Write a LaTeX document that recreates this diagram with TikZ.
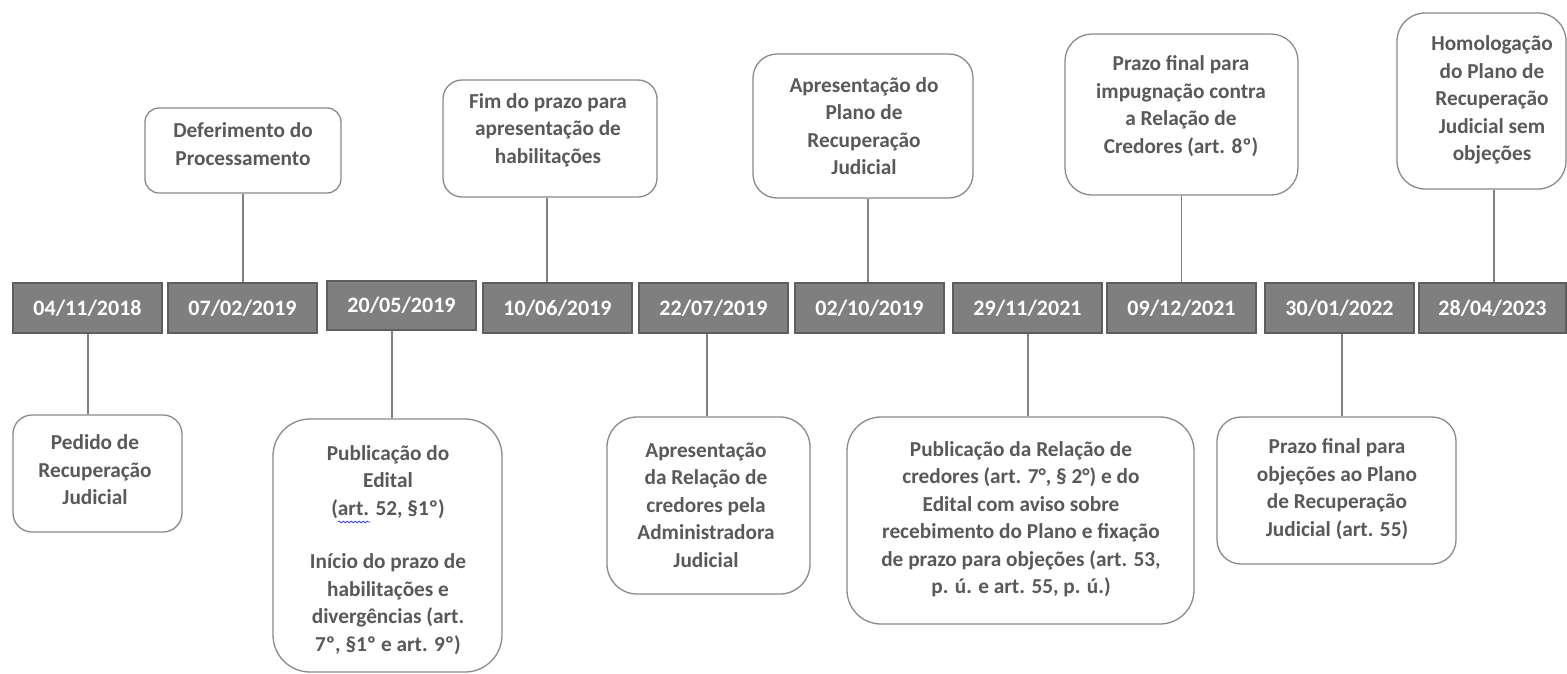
\documentclass[tikz,border=0pt]{standalone}
\usepackage{fontspec}
\setmainfont{Carlito}
\usetikzlibrary{calc,decorations.pathmorphing}
\definecolor{txtgray}{HTML}{595959}
\definecolor{boxline}{HTML}{8A8A8A}
\definecolor{datefill}{HTML}{7F7F7F}
\definecolor{dateline}{HTML}{5E5E5E}
\definecolor{connline}{HTML}{808080}
\definecolor{spellblue}{HTML}{3F48E0}
\begin{document}
\begin{tikzpicture}[x=1pt,y=-1pt,
  datebox/.style={draw=dateline, line width=1.3pt, fill=datefill, text=white,
    font=\bfseries\fontsize{22}{26}\selectfont, inner sep=0pt,
    minimum width=149pt, minimum height=50pt},
  evbox/.style={draw=boxline, line width=1.3pt, fill=white, inner sep=0pt},
  evtext/.style={text=txtgray, align=center, inner sep=0pt,
    font=\bfseries\fontsize{21.3}{27.5}\selectfont},
  conn/.style={draw=connline, line width=1.3pt}]
\useasboundingbox (0,0) rectangle (1567,673);
\fill[white] (0,0) rectangle (1567,673);

% date boxes
\node[datebox] (d1) at (87.5,308) {04/11/2018};
\node[datebox] (d2) at (242.5,308) {07/02/2019};
\node[datebox, minimum height=49pt] (d3) at (401.5,305.5) {20/05/2019};
\node[datebox] (d4) at (557.5,308) {10/06/2019};
\node[datebox] (d5) at (713.5,308) {22/07/2019};
\node[datebox] (d6) at (869.5,308) {02/10/2019};
\node[datebox] (d7) at (1027.5,308) {29/11/2021};
\node[datebox] (d8) at (1181.5,308) {09/12/2021};
\node[datebox] (d9) at (1339.5,308) {30/01/2022};
\node[datebox, minimum width=147pt] (d10) at (1492.5,308) {28/04/2023};

% upper event boxes
\node[evbox, rounded corners=14pt, minimum width=196pt, minimum height=85pt] (bdef) at (243,150.5) {};
\node[evbox, rounded corners=19pt, minimum width=214pt, minimum height=117pt] (bfim) at (550,138.5) {};
\node[evbox, rounded corners=24pt, minimum width=220pt, minimum height=144pt] (bplano) at (863,126) {};
\node[evbox, rounded corners=27pt, minimum width=233pt, minimum height=161pt] (bimp) at (1181.5,114.5) {};
\node[evbox, rounded corners=28pt, minimum width=169pt, minimum height=176pt] (bhom) at (1481.5,101) {};

% lower event boxes
\node[evbox, rounded corners=19pt, minimum width=169pt, minimum height=117pt] (bped) at (97.5,473.5) {};
\node[evbox, rounded corners=37pt, minimum width=229pt, minimum height=253pt] (bedi) at (387.5,545.5) {};
\node[evbox, rounded corners=30pt, minimum width=203pt, minimum height=177pt] (bapr) at (708.5,505.5) {};
\node[evbox, rounded corners=34pt, minimum width=347pt, minimum height=207pt] (bpub) at (1020.5,520.5) {};
\node[evbox, rounded corners=24pt, minimum width=239pt, minimum height=147pt] (bobj) at (1336.5,490.5) {};

% texts
\node[evtext] (tdef) at (243,144) {Deferimento do\\Processamento};
\node[evtext] (tfim) at (548,130) {Fim do prazo para\\apresentação de\\habilitações};
\node[evtext] (tplano) at (864,126) {Apresentação do\\Plano de\\Recuperação\\Judicial};
\node[evtext] (timp) at (1181,106) {Prazo final para\\impugnação contra\\a Relação de\\Credores (art. 8º)};
\node[evtext] (thom) at (1492,100) {Homologação\\do Plano de\\Recuperação\\Judicial sem\\objeções};
\node[evtext] (tped) at (95,470) {Pedido de\\Recuperação\\Judicial};
\node[evtext] (tedi) at (388,550) {Publicação do\\Edital\\(art. 52, §1º)\\[26pt]Início do prazo de\\habilitações e\\divergências (art.\\7º, §1º e art. 9º)};
\node[evtext] (tapr) at (706,505) {Apresentação\\da Relação de\\credores pela\\Administradora\\Judicial};
\node[evtext] (tpub) at (1021,519) {Publicação da Relação de\\credores (art. 7°, § 2°) e do\\Edital com aviso sobre\\recebimento do Plano e fixação\\de prazo para objeções (art. 53,\\p. ú. e art. 55, p. ú.)};
\node[evtext] (tobj) at (1337,489) {Prazo final para\\objeções ao Plano\\de Recuperação\\Judicial (art. 55)};

% spelling underline
\draw[spellblue, line width=0.8pt, decorate, decoration={snake, amplitude=0.9pt, segment length=4pt}] (338,522) -- (370,522);

% connectors (upper)
\draw[conn] (bdef.south) -- (bdef.south |- d2.north);
\draw[conn] ([xshift=-3pt]bfim.south) -- ([xshift=-3pt]bfim.south |- d4.north);
\draw[conn] ([xshift=5pt]bplano.south) -- ([xshift=5pt]bplano.south |- d6.north);
\draw[conn] (bimp.south) -- (bimp.south |- d8.north);
\draw[conn] ([xshift=12.5pt]bhom.south) -- ([xshift=12.5pt]bhom.south |- d10.north);
% connectors (lower)
\draw[conn] ([xshift=-9.5pt]bped.north |- d1.south) -- ([xshift=-9.5pt]bped.north);
\draw[conn] ([xshift=4.5pt]bedi.north |- d3.south) -- ([xshift=4.5pt]bedi.north);
\draw[conn] ([xshift=-1.5pt]bapr.north |- d5.south) -- ([xshift=-1.5pt]bapr.north);
\draw[conn] ([xshift=7.5pt]bpub.north |- d7.south) -- ([xshift=7.5pt]bpub.north);
\draw[conn] ([xshift=5.5pt]bobj.north |- d9.south) -- ([xshift=5.5pt]bobj.north);
\end{tikzpicture}
\end{document}
